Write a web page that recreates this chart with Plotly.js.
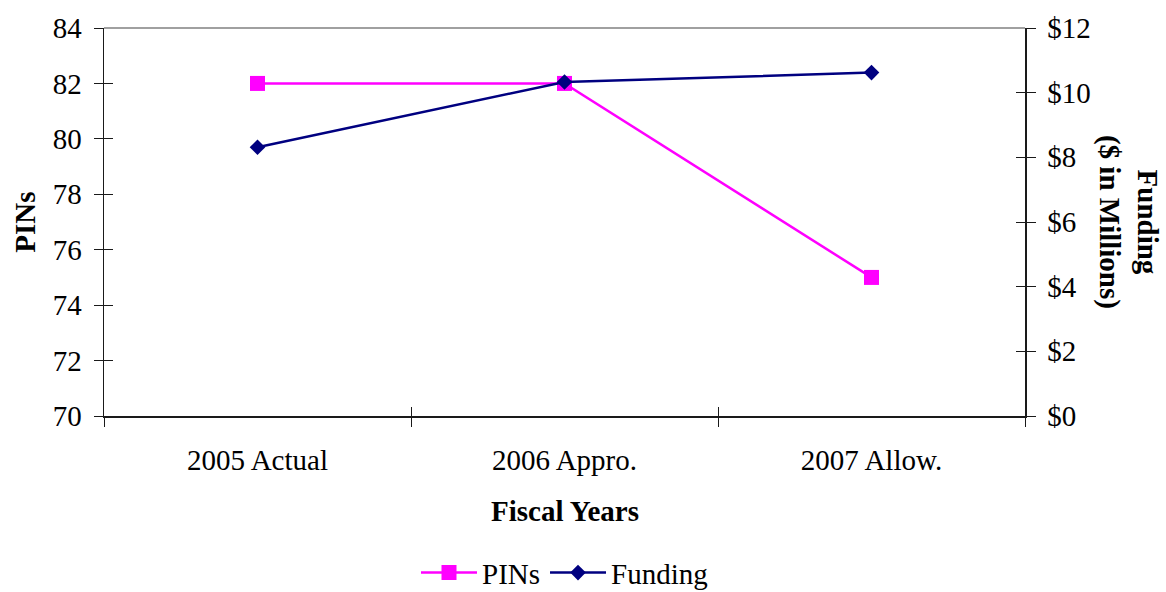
<!DOCTYPE html>
<html>
<head>
<meta charset="utf-8">
<script src="https://cdn.plot.ly/plotly-3.0.1.min.js"></script>
<style>html,body{margin:0;padding:0;background:#fff;}#chart{width:1166px;height:592px;}</style>
</head>
<body>
<div id="chart"></div>
<script>
var categories = ["2005 Actual", "2006 Appro.", "2007 Allow."];
var pins = [82, 82, 75];
var funding = [8.31, 10.33, 10.62];
var leftTicks = [70, 72, 74, 76, 78, 80, 82, 84];
var rightTicks = [0, 2, 4, 6, 8, 10, 12];
var rightTickText = rightTicks.map(function (v) { return "$" + v; });

var FONT = "Liberation Serif, Times New Roman, serif";
var AX = "#1a1a1a";
var FS = 29;

var traces = [
  {
    x: categories, y: pins, name: "PINs", type: "scatter", mode: "lines+markers",
    line: {color: "#FF00FF", width: 2.5},
    marker: {symbol: "square", size: 15, color: "#FF00FF"},
    xaxis: "x", yaxis: "y"
  },
  {
    x: categories, y: funding, name: "Funding", type: "scatter", mode: "lines+markers",
    line: {color: "#000080", width: 2.5},
    marker: {symbol: "diamond", size: 12, color: "#000080"},
    xaxis: "x", yaxis: "y2"
  }
];

var tickFont = {family: FONT, size: FS, color: "#000"};

var layout = {
  width: 1166, height: 592,
  margin: {l: 104, r: 141, t: 28, b: 176, autoexpand: false},
  paper_bgcolor: "#fff", plot_bgcolor: "#fff",
  font: {family: FONT, color: "#000"},
  showlegend: true,
  legend: {
    orientation: "h", x: 0.5, xanchor: "center", y: -0.404, yanchor: "middle",
    font: {family: FONT, size: FS, color: "#000"}, itemwidth: 56,
    traceorder: "normal", bgcolor: "rgba(0,0,0,0)"
  },
  xaxis: {
    type: "category", range: [-0.5, 2.5], tickson: "boundaries",
    ticks: "outside", ticklen: 9, tickcolor: AX, tickwidth: 1,
    showline: true, linecolor: AX, linewidth: 1.5,
    showgrid: false, zeroline: false, tickfont: tickFont, ticklabelstandoff: 18,
    fixedrange: true
  },
  xaxis2: {
    type: "category", range: [-0.5, 2.5], tickson: "boundaries", overlaying: "x",
    matches: "x", ticks: "inside", ticklen: 9, tickcolor: AX, tickwidth: 1,
    showticklabels: false, showline: false, showgrid: false, zeroline: false
  },
  yaxis: {
    range: [70, 84], tickvals: leftTicks, ticks: "outside", ticklen: 9,
    tickcolor: AX, tickwidth: 1, showline: true, linecolor: AX, linewidth: 1.5,
    showgrid: false, zeroline: false, tickfont: tickFont, ticklabelstandoff: 6,
    fixedrange: true
  },
  yaxis2: {
    range: [0, 12], tickvals: rightTicks, ticktext: rightTickText, overlaying: "y",
    side: "right", anchor: "x", ticks: "outside", ticklen: 9, tickcolor: AX, tickwidth: 1,
    showline: true, linecolor: AX, linewidth: 1.5, showgrid: false, zeroline: false,
    tickfont: tickFont, ticklabelstandoff: 6, fixedrange: true
  },
  yaxis3: {
    range: [70, 84], tickvals: leftTicks, overlaying: "y", side: "left", anchor: "x",
    ticks: "inside", ticklen: 9, tickcolor: AX, tickwidth: 1,
    showticklabels: false, showline: false, showgrid: false, zeroline: false
  },
  yaxis4: {
    range: [0, 12], tickvals: rightTicks, overlaying: "y", side: "right", anchor: "x",
    ticks: "inside", ticklen: 9, tickcolor: AX, tickwidth: 1,
    showticklabels: false, showline: false, showgrid: false, zeroline: false
  },
  shapes: [
    {type: "line", xref: "paper", yref: "paper", x0: 0, x1: 1, y0: 1, y1: 1,
     line: {color: "#808080", width: 1.5}}
  ],
  annotations: [
    {text: "<b>PINs</b>", xref: "paper", yref: "paper", x: -0.086, y: 0.5,
     xanchor: "center", yanchor: "middle", textangle: -90, showarrow: false,
     font: {family: FONT, size: FS, color: "#000"}},
    {text: "<b>Fiscal Years</b>", xref: "paper", yref: "paper", x: 0.5, y: -0.245,
     xanchor: "center", yanchor: "middle", showarrow: false,
     font: {family: FONT, size: FS, color: "#000"}},
    {text: "<b>Funding<br>($ in Millions)</b>", xref: "paper", yref: "paper", x: 1.113, y: 0.5,
     xanchor: "center", yanchor: "middle", textangle: 90, showarrow: false,
     font: {family: FONT, size: FS, color: "#000"}}
  ]
};

traces.push({x: categories, y: [null, null, null], xaxis: "x2", yaxis: "y3", type: "scatter", mode: "lines", showlegend: false, hoverinfo: "skip"});
traces.push({x: categories, y: [null, null, null], xaxis: "x2", yaxis: "y4", type: "scatter", mode: "lines", showlegend: false, hoverinfo: "skip"});

Plotly.newPlot("chart", traces, layout, {displayModeBar: false, staticPlot: true});
</script>
</body>
</html>
